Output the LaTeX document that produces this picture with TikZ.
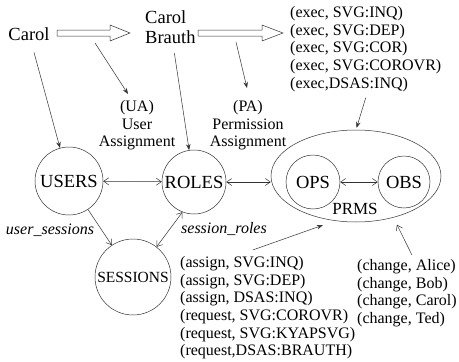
\documentclass[tikz,border=0pt]{standalone}
\usepackage{fontspec}
\setmainfont{Liberation Serif}
\usetikzlibrary{arrows.meta,shapes.geometric}
\begin{document}
\begin{tikzpicture}[x=1pt,y=-1pt,
  line/.style={draw=black!80, line width=0.5pt},
  fa/.style={line, -{Stealth[length=6pt,width=4.5pt]}},
  oa/.style={line, -{Straight Barb[length=5pt,width=7pt]}},
  oab/.style={line, {Straight Barb[length=5pt,width=7pt]}-{Straight Barb[length=5pt,width=7pt]}},
  setnode/.style={circle, line, inner sep=0pt},
  big/.style={font=\fontsize{18.5}{20.5}\selectfont},
  mid/.style={font=\fontsize{16}{17.7}\selectfont},
  txt/.style={inner sep=0pt},
  hollow/.style={line, fill=white}]
\useasboundingbox (0,0) rectangle (459,362);

% subjects and the change of identity
\node[txt, big] (carol) at (29,34) {Carol};
\node[txt, big, align=left, anchor=north west] (cb) at (145,10) {Carol\\Brauth};
\node[txt, mid, align=left, anchor=north west] (exec) at (290,6)
  {(exec, SVG:INQ)\\(exec, SVG:DEP)\\(exec, SVG:COR)\\(exec, SVG:COROVR)\\(exec,DSAS:INQ)};

% hollow transition arrows
\draw[hollow] (57,30) -- (110,30) -- (110,25) -- (130,33) -- (110,41) -- (110,36) -- (57,36) -- cycle;
\draw[hollow] (198,30) -- (262,30) -- (262,25) -- (283,33) -- (262,41) -- (262,36) -- (198,36) -- cycle;
\coordinate (ua-from) at (95,43);
\coordinate (pa-from) at (236,42);

% assignment labels
\node[txt, mid, align=center, anchor=north] (ua) at (137,100) {(UA)\\User\\Assignment};
\node[txt, mid, align=center, anchor=north] (pa) at (248,100) {(PA)\\Permission\\Assignment};

% RBAC sets
\node[setnode, minimum size=68pt, big] (users) at (69,181) {USERS};
\node[setnode, minimum size=64pt, big] (roles) at (194,182) {ROLES};
\node[setnode, minimum size=76pt, font=\fontsize{15.5}{18}\selectfont] (sessions) at (133,277) {SESSIONS};
\node[ellipse, line, minimum width=170pt, minimum height=92pt, inner sep=0pt] (prms) at (356,176) {};
\node[setnode, minimum size=54pt, big] (ops) at (313,182) {OPS};
\node[setnode, minimum size=52pt, big] (obs) at (404,182) {OBS};
\node[txt, font=\fontsize{17}{20}\selectfont] (prmslabel) at (355,209) {PRMS};

% relation labels
\node[txt, mid] (us) at (50,230) {\textit{user\_sessions}};
\node[txt, mid] (sr) at (224,229) {\textit{session\_roles}};

% permission and user lists
\node[txt, mid, align=left, anchor=north west] (assign) at (180,256)
  {(assign, SVG:INQ)\\(assign, SVG:DEP)\\(assign, DSAS:INQ)\\(request, SVG:COROVR)\\(request, SVG:KYAPSVG)\\(request,DSAS:BRAUTH)};
\node[txt, mid, align=left, anchor=north west] (change) at (357,259)
  {(change, Alice)\\(change, Bob)\\(change, Carol)\\(change, Ted)};

% connectors
\draw[fa, shorten <=12pt] (carol) -- (users);
\draw[fa, shorten <=9pt] (cb) -- (roles);
\draw[fa] (ua-from) -- ([xshift=-9pt,yshift=6pt]ua.north);
\draw[fa] (pa-from) -- ([xshift=-1pt,yshift=12pt]pa.north);
\draw[fa, shorten >=2pt] ([yshift=-6pt]exec.south) -- (prms.north);
\draw[oab] (users) -- (roles);
\draw[oab] (roles.east) -- (roles.east -| prms.west);
\draw[oab] (ops) -- (obs);
\draw[oa] (users) -- (sessions);
\draw[oab] (sessions.52) -- (roles.-111);
\draw[fa, shorten >=13pt] ([xshift=-15pt,yshift=6pt]assign.north) -- (prms.-115);
\draw[oa, shorten >=8pt] ([xshift=5pt,yshift=4pt]change.north) -- (prms.-48);
\end{tikzpicture}
\end{document}
